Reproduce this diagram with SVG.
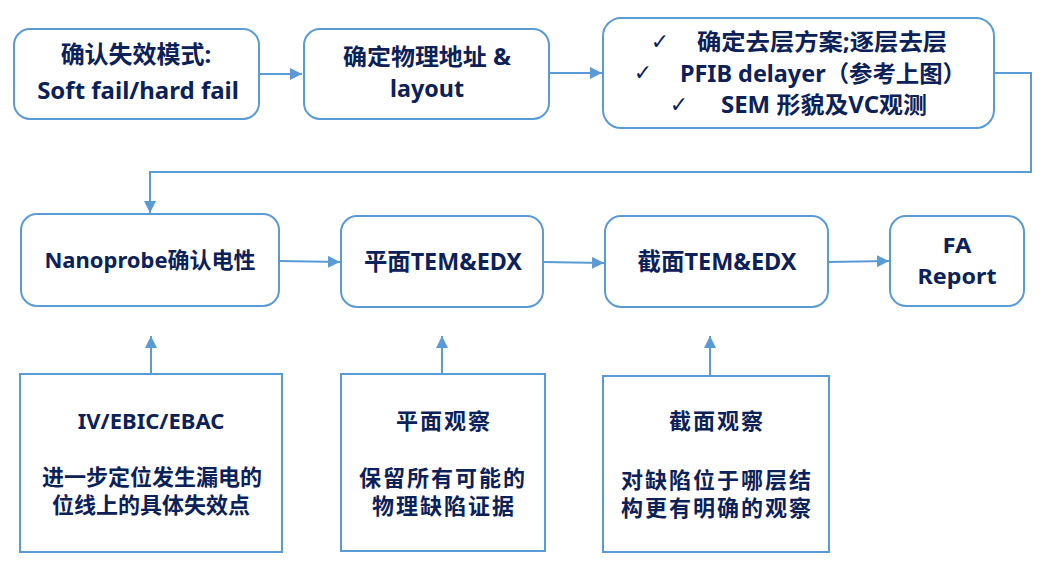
<svg xmlns="http://www.w3.org/2000/svg" width="1050" height="570" viewBox="0 0 1050 570">
<defs>
<marker id="ah" viewBox="0 0 10 10" refX="10" refY="5" markerWidth="12" markerHeight="12" markerUnits="userSpaceOnUse" orient="auto">
<path d="M0,0 L10,5 L0,10 z" fill="#5b9bd5"/>
</marker>
<style>
.box{fill:#fff;stroke:#5b9bd5;stroke-width:2}
.t{font-family:"Noto Sans","Noto Sans CJK SC",sans-serif;font-weight:bold;font-size:24px;fill:#0c2158;text-anchor:middle}
.s{font-size:22px}
.w{font-size:22px;letter-spacing:2px}
.m{font-size:23px}
.ck{font-family:"DejaVu Sans",sans-serif;font-weight:bold;font-size:22px}
.c{stroke:#5b9bd5;stroke-width:2;fill:none}
</style>
</defs>
<rect width="1050" height="570" fill="#fff"/>
<g id="connectors">
<path class="c" d="M259,74 L302,74" marker-end="url(#ah)"/>
<path class="c" d="M549,73 L602,73" marker-end="url(#ah)"/>
<path class="c" d="M994,73 L1031,73 L1031,172 L150,172 L150,213" marker-end="url(#ah)"/>
<path class="c" d="M279,261 L340,262" marker-end="url(#ah)"/>
<path class="c" d="M543,262 L604,263" marker-end="url(#ah)"/>
<path class="c" d="M828,262 L889,261" marker-end="url(#ah)"/>
<path class="c" d="M151,374 L151,336" marker-end="url(#ah)"/>
<path class="c" d="M442,374 L442,336" marker-end="url(#ah)"/>
<path class="c" d="M710,376 L710,336" marker-end="url(#ah)"/>
</g>
<g id="n1">
<rect class="box" x="14" y="29" width="245" height="90" rx="16"/>
<text class="t"><tspan x="136" y="63">确认失效模式:</tspan><tspan x="138" y="99">Soft fail/hard fail</tspan></text>
</g>
<g id="n2">
<rect class="box" x="304" y="29" width="245" height="90" rx="16"/>
<text class="t m" x="427" y="65" textLength="168" lengthAdjust="spacingAndGlyphs">确定物理地址 &amp;</text>
<text class="t m" x="427" y="97" textLength="74" lengthAdjust="spacingAndGlyphs">layout</text>
</g>
<g id="n3">
<rect class="box" x="603" y="18" width="391" height="110" rx="18"/>
<text class="t"><tspan class="ck" x="660" y="49">✓</tspan><tspan class="ck" x="643" y="80">✓</tspan><tspan class="ck" x="679" y="112">✓</tspan></text>
<text class="t m" x="822" y="50" textLength="250" lengthAdjust="spacingAndGlyphs">确定去层方案;逐层去层</text>
<text class="t m" x="823" y="82" textLength="286" lengthAdjust="spacingAndGlyphs">PFIB delayer（参考上图）</text>
<text class="t m" x="824" y="113" textLength="206" lengthAdjust="spacingAndGlyphs">SEM 形貌及VC观测</text>
</g>
<g id="n4">
<rect class="box" x="21" y="214" width="258" height="92" rx="16"/>
<text class="t s" x="150" y="268">Nanoprobe确认电性</text>
</g>
<g id="n5">
<rect class="box" x="341" y="216" width="202" height="91" rx="16"/>
<text class="t" x="443" y="270" textLength="158" lengthAdjust="spacingAndGlyphs">平面TEM&amp;EDX</text>
</g>
<g id="n6">
<rect class="box" x="605" y="216" width="223" height="91" rx="16"/>
<text class="t" x="717" y="270" textLength="159" lengthAdjust="spacingAndGlyphs">截面TEM&amp;EDX</text>
</g>
<g id="n7">
<rect class="box" x="890" y="216" width="134" height="90" rx="16"/>
<text class="t s" x="957" y="253" textLength="29" lengthAdjust="spacingAndGlyphs">FA</text>
<text class="t s" x="957" y="284" textLength="79" lengthAdjust="spacingAndGlyphs">Report</text>
</g>
<g id="n8">
<rect class="box" x="20" y="374" width="262" height="178"/>
<text class="t s" x="151" y="429">IV/EBIC/EBAC</text>
<text class="t s" x="152" y="485">进一步定位发生漏电的</text>
<text class="t s" x="151" y="513">位线上的具体失效点</text>
</g>
<g id="n9">
<rect class="box" x="341" y="374" width="204" height="177"/>
<text class="t w" x="444" y="429">平面观察</text>
<text class="t w" x="443" y="486">保留所有可能的</text>
<text class="t w" x="444" y="514">物理缺陷证据</text>
</g>
<g id="n10">
<rect class="box" x="603" y="376" width="226" height="176"/>
<text class="t w" x="717" y="429">截面观察</text>
<text class="t w" x="717" y="488">对缺陷位于哪层结</text>
<text class="t w" x="717" y="516">构更有明确的观察</text>
</g>
</svg>
